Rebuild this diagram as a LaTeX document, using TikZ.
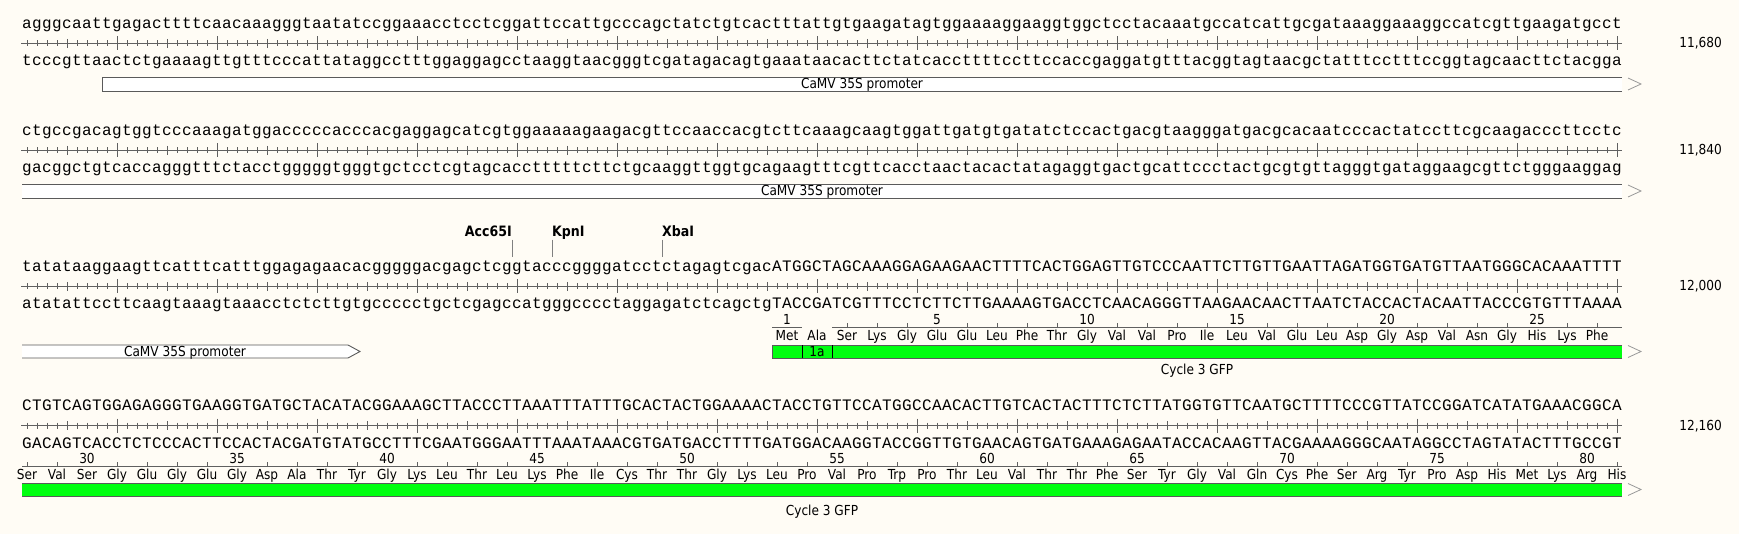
\documentclass[tikz,border=0pt]{standalone}
\usepackage{fontspec}
\newfontfamily\seqfont[LetterSpace=2.5]{Liberation Mono}
\newfontfamily\mapfont[FakeStretch=0.88]{DejaVu Sans}
\usetikzlibrary{positioning}

\definecolor{mapbg}{RGB}{255,252,245}
\definecolor{cdsgreen}{RGB}{0,255,16}
\definecolor{tickgray}{RGB}{96,96,96}
\definecolor{bargray}{RGB}{90,90,90}

% the lower strand is the complement of the upper one
\ExplSyntaxOn
\cs_new:Npn \dnamap_base:n #1
  { \str_case:nnF {#1} { {a}{t} {t}{a} {g}{c} {c}{g} {A}{T} {T}{A} {G}{C} {C}{G} } {#1} }
\NewExpandableDocumentCommand \compstrand { m } { \tl_map_function:NN #1 \dnamap_base:n }
\ExplSyntaxOff

\def\seqA{agggcaattgagacttttcaacaaagggtaatatccggaaacctcctcggattccattgcccagctatctgtcactttattgtgaagatagtggaaaaggaaggtggctcctacaaatgccatcattgcgataaaggaaaggccatcgttgaagatgcct}
\def\seqB{ctgccgacagtggtcccaaagatggacccccacccacgaggagcatcgtggaaaaagaagacgttccaaccacgtcttcaaagcaagtggattgatgtgatatctccactgacgtaagggatgacgcacaatcccactatccttcgcaagacccttcctc}
\def\seqC{tatataaggaagttcatttcatttggagagaacacgggggacgagctcggtacccggggatcctctagagtcgacATGGCTAGCAAAGGAGAAGAACTTTTCACTGGAGTTGTCCCAATTCTTGTTGAATTAGATGGTGATGTTAATGGGCACAAATTTT}
\def\seqD{CTGTCAGTGGAGAGGGTGAAGGTGATGCTACATACGGAAAGCTTACCCTTAAATTTATTTGCACTACTGGAAAACTACCTGTTCCATGGCCAACACTTGTCACTACTTTCTCTTATGGTGTTCAATGCTTTTCCCGTTATCCGGATCATATGAAACGGCA}

\begin{document}
\begin{tikzpicture}[x=1pt, y=-1pt]
    \tikzset{
        seq/.style={anchor=base west, inner sep=0pt, font=\seqfont\fontsize{16}{17}\selectfont},
        lab/.style={inner sep=0pt, anchor=base, font=\mapfont\fontsize{13.8}{15}\selectfont},
        posnum/.style={lab, anchor=base east},
        enz/.style={inner xsep=0pt, inner ysep=2.5pt, text depth=0pt, font=\mapfont\bfseries\fontsize{14.3}{15}\selectfont},
        ruler/.style={draw=tickgray, line width=1.1pt},
        aaline/.style={draw=tickgray, line width=0.8pt},
        barline/.style={draw=bargray, line width=0.9pt},
        enzline/.style={draw=gray, line width=0.8pt},
        cont/.pic={
                \draw[gray!80, line width=0.8pt] (6,-6) -- (19,0) -- (6,6);
            }
    }

    \fill[mapbg] (0,0) rectangle (1739,534);
    \useasboundingbox (0,0) rectangle (1739,534);

    % Base rulers
    \foreach \t/\pos [count=\r] in {24/{11,680}, 131/{11,840}, 267/{12,000}, 406/{12,160}} {
        \draw[ruler] (21,\t+19.5) -- (1622,\t+19.5);
        \foreach \i in {1,...,160} {
            \pgfmathsetmacro\h{mod(\i,10)==0 ? 7 : (mod(\i,5)==0 ? 4.5 : 3)}
            \draw[ruler, line width=0.9pt] (17+10*\i,\t+19.5-\h) -- (17+10*\i,\t+19.5+\h);
        }
        \node[posnum] (pos\r) at (1722,\t+24) {\pos};
    }

    % Sequences
    \node[seq] (top1) at (22,28.5) {\seqA};
    \node[seq] (bot1) at (22,66) {\compstrand\seqA};
    \node[seq] (top2) at (22,135.5) {\seqB};
    \node[seq] (bot2) at (22,173) {\compstrand\seqB};
    \node[seq] (top3) at (22,271.5) {\seqC};
    \node[seq] (bot3) at (22,309) {\compstrand\seqC};
    \node[seq] (top4) at (22,410.5) {\seqD};
    \node[seq] (bot4) at (22,448) {\compstrand\seqD};

    % CaMV 35S promoter
    \fill[white] (102,77) rectangle (1622,91);
    \draw[barline] (1622,77) -- (102,77) -- (102,91) -- (1622,91);
    \node[lab] (prom1) at (862,88.5) {CaMV 35S promoter};
    \pic at (1622,84) {cont};

    \fill[white] (22,184) rectangle (1622,198);
    \draw[barline] (22,184) -- (1622,184);
    \draw[barline] (22,198) -- (1622,198);
    \node[lab] (prom2) at (822,195.5) {CaMV 35S promoter};
    \pic at (1622,191) {cont};

    \fill[white] (22,345) -- (348,345) -- (360,351.5) -- (348,358) -- (22,358) -- cycle;
    \draw[barline] (22,345) -- (348,345) -- (360,351.5) -- (348,358) -- (22,358);
    \node[lab] (prom3) at (185,356) {CaMV 35S promoter};

    % Enzyme sites
    \coordinate (cutAcc) at (512,257);
    \coordinate (cutKpn) at (552,257);
    \coordinate (cutXba) at (662,257);
    \node[enz, anchor=base east] (acc) at (512,237) {Acc65I};
    \node[enz, anchor=base west] (kpn) at (552,237) {KpnI};
    \node[enz, anchor=base west] (xba) at (662,237) {XbaI};
    \draw[enzline] (acc.south east) -- (cutAcc);
    \draw[enzline] (kpn.south west) -- (cutKpn);
    \draw[enzline] (xba.south west) -- (cutXba);

    % Cycle 3 GFP, first part
    \draw[aaline] (772,327) -- (802,327);
    \draw[aaline] (832,327) -- (1622,327);
    \node[lab] (numC1) at (787,324) {1};
    \foreach \j in {2,...,27} {
        \pgfmathtruncatemacro\m{mod(\j,5)}
        \ifnum\m=0
            \node[lab] (numC\j) at (787+30*\j,324) {\j};
        \else
            \draw[aaline] (787+30*\j,327) -- ++(0,-4);
        \fi
    }
    \foreach \aa [count=\j from 0] in {Met,Ala,Ser,Lys,Gly,Glu,Glu,Leu,Phe,Thr,Gly,Val,Val,Pro,Ile,Leu,Val,Glu,Leu,Asp,Gly,Asp,Val,Asn,Gly,His,Lys,Phe}
        \node[lab] (aaC\j) at (787+30*\j,341) {\aa};

    \fill[cdsgreen] (772,345) rectangle (1622,358);
    \draw[barline] (1622,345) -- (772,345) -- (772,358) -- (1622,358);
    \draw[black, line width=1pt] (802,345) -- (802,358);
    \draw[black, line width=1pt] (832,345) -- (832,358);
    \node[lab] (ins1a) at (817,356) {1a};
    \node[lab] (gfp3) at (1197,374.5) {Cycle 3 GFP};
    \pic at (1622,351.5) {cont};

    % Cycle 3 GFP, second part
    \draw[aaline] (22,466) -- (1622,466);
    \foreach \m in {0,...,53} {
        \pgfmathtruncatemacro\n{28+\m}
        \pgfmathtruncatemacro\k{mod(\n,5)}
        \ifnum\k=0
            \node[lab] (numD\n) at (27+30*\m,463) {\n};
        \else
            \draw[aaline] (27+30*\m,466) -- ++(0,-4);
        \fi
    }
    \foreach \aa [count=\m from 0] in {Ser,Val,Ser,Gly,Glu,Gly,Glu,Gly,Asp,Ala,Thr,Tyr,Gly,Lys,Leu,Thr,Leu,Lys,Phe,Ile,Cys,Thr,Thr,Gly,Lys,Leu,Pro,Val,Pro,Trp,Pro,Thr,Leu,Val,Thr,Thr,Phe,Ser,Tyr,Gly,Val,Gln,Cys,Phe,Ser,Arg,Tyr,Pro,Asp,His,Met,Lys,Arg,His}
        \node[lab] (aaD\m) at (27+30*\m,479.5) {\aa};

    \fill[cdsgreen] (22,483) rectangle (1622,496);
    \draw[barline] (22,483) -- (1622,483);
    \draw[barline] (22,496) -- (1622,496);
    \node[lab] (gfp4) at (822,515.5) {Cycle 3 GFP};
    \pic at (1622,489.5) {cont};
\end{tikzpicture}
\end{document}
